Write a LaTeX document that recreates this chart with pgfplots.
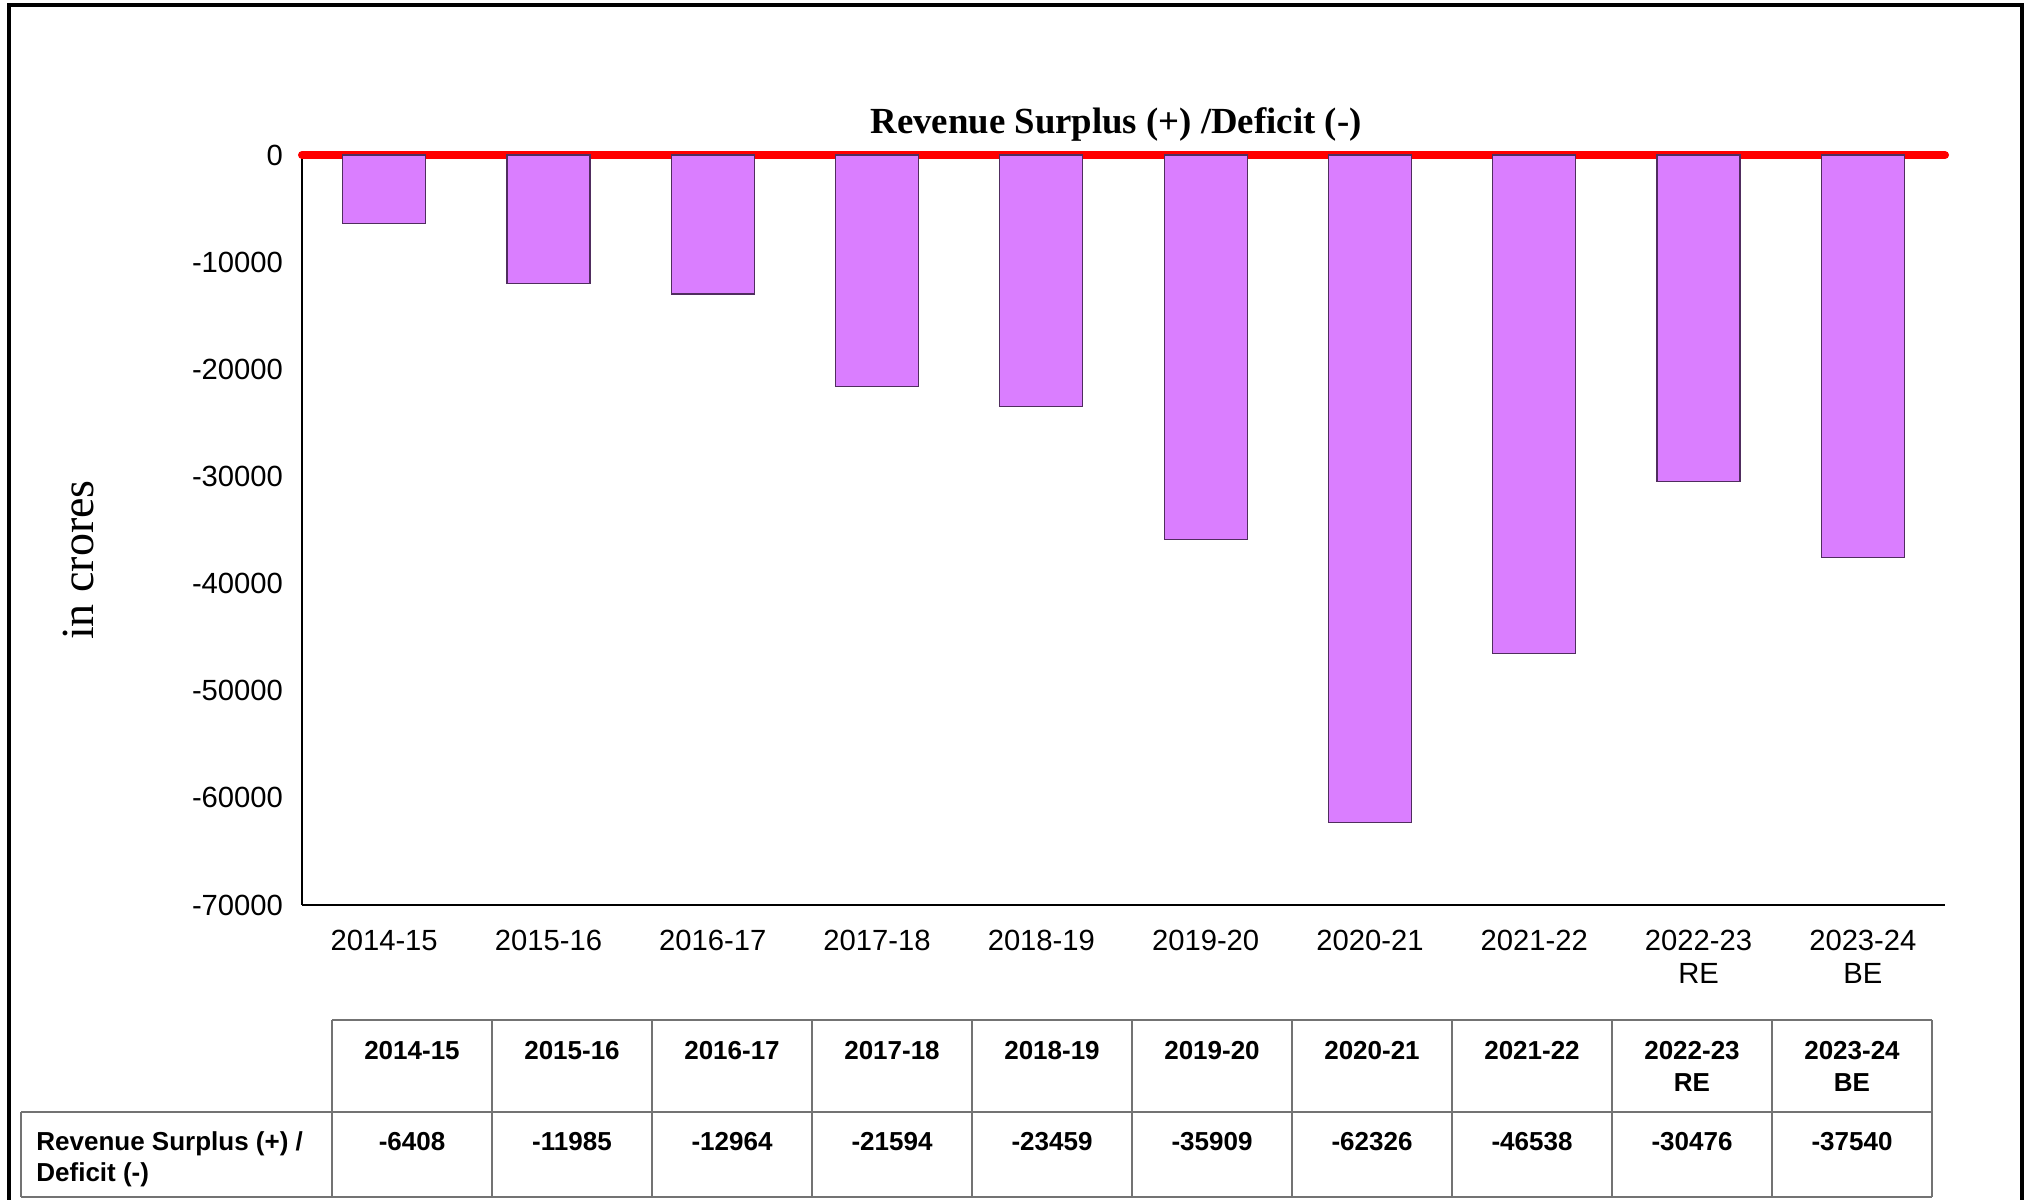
\documentclass[border=0pt]{standalone}
\usepackage{pgfplots}
\pgfplotsset{compat=1.18}
\usepackage{fontspec}
\setmainfont{Liberation Sans}
\newfontfamily\timesfont{Liberation Serif}

\definecolor{barfill}{RGB}{218,126,255}
\definecolor{baredge}{RGB}{80,45,95}
\definecolor{gridgray}{RGB}{115,115,115}

\begin{document}
\begin{tikzpicture}
  % outer frame (bottom edge is cut off in the original)
  \draw[line width=2pt] (4.5pt,-5pt) -- (4.5pt,597.5pt) -- (1010.75pt,597.5pt) -- (1010.75pt,-5pt);

  \begin{axis}[
    at={(151pt,147.5pt)}, anchor=south west,
    scale only axis, width=821.5pt, height=375pt,
    xmin=-0.5, xmax=9.5, ymin=-70000, ymax=0,
    axis lines*=left,
    axis line style={line width=1.2pt, -},
    major tick length=0pt,
    scaled y ticks=false,
    xtick={0,...,9},
    xticklabels={2014-15,2015-16,2016-17,2017-18,2018-19,2019-20,2020-21,2021-22,{2022-23\\RE},{2023-24\\BE}},
    ytick={-70000,-60000,-50000,-40000,-30000,-20000,-10000,0},
    yticklabels={-70000,-60000,-50000,-40000,-30000,-20000,-10000,0},
    tick label style={font=\fontsize{14.6}{16.5}\selectfont},
    xticklabel style={align=center, yshift=-9pt},
    yticklabel style={xshift=-6pt},
    clip=false,
  ]
    \draw[red, line width=4pt, line cap=round] (axis cs:-0.5,0) -- (axis cs:9.5,0);
    \addplot[ybar, bar width=41.5pt, fill=barfill, draw=baredge, line width=0.6pt] coordinates {
      (0,-6408) (1,-11985) (2,-12964) (3,-21594) (4,-23459)
      (5,-35909) (6,-62326) (7,-46538) (8,-30476) (9,-37540)
    };
  \end{axis}

  % title and y label
  \node[font=\timesfont\bfseries\fontsize{18.4}{20}\selectfont] at (558pt,538pt) {Revenue Surplus (+) /Deficit (-)};
  \node[font=\timesfont\fontsize{23}{25}\selectfont, rotate=90] at (39pt,320pt) {in crores};

  % data table
  \draw[gridgray, line width=0.75pt] (166pt,90pt) -- (966pt,90pt);
  \draw[gridgray, line width=0.75pt] (10.5pt,44pt) -- (966pt,44pt);
  \draw[gridgray, line width=0.75pt] (10.5pt,1.5pt) -- (966pt,1.5pt);
  \draw[gridgray, line width=0.75pt] (10.5pt,44pt) -- (10.5pt,1.5pt);
  \foreach \i in {0,...,10} {
    \draw[gridgray, line width=0.75pt] ({166pt+80pt*\i},90pt) -- ({166pt+80pt*\i},1.5pt);
  }
  \foreach \lab [count=\k from 0] in {2014-15,2015-16,2016-17,2017-18,2018-19,2019-20,2020-21,2021-22,2022-23,2023-24} {
    \node[font=\bfseries\fontsize{13}{15}\selectfont, anchor=base, inner sep=0pt] at ({206pt+80pt*\k},70.3pt) {\lab};
  }
  \node[font=\bfseries\fontsize{13}{15}\selectfont, anchor=base, inner sep=0pt] at (846pt,54.3pt) {RE};
  \node[font=\bfseries\fontsize{13}{15}\selectfont, anchor=base, inner sep=0pt] at (926pt,54.3pt) {BE};
  \foreach \v [count=\k from 0] in {-6408,-11985,-12964,-21594,-23459,-35909,-62326,-46538,-30476,-37540} {
    \node[font=\bfseries\fontsize{13}{15}\selectfont, anchor=base, inner sep=0pt] at ({206pt+80pt*\k},24.5pt) {\v};
  }
  \node[font=\bfseries\fontsize{13}{15}\selectfont, anchor=base west, inner sep=0pt] at (18pt,24.5pt) {Revenue Surplus (+) /};
  \node[font=\bfseries\fontsize{13}{15}\selectfont, anchor=base west, inner sep=0pt] at (18pt,9pt) {Deficit (-)};

  \pgfresetboundingbox
  \path[use as bounding box] (0,0) rectangle (1021pt,600pt);
\end{tikzpicture}
\end{document}
